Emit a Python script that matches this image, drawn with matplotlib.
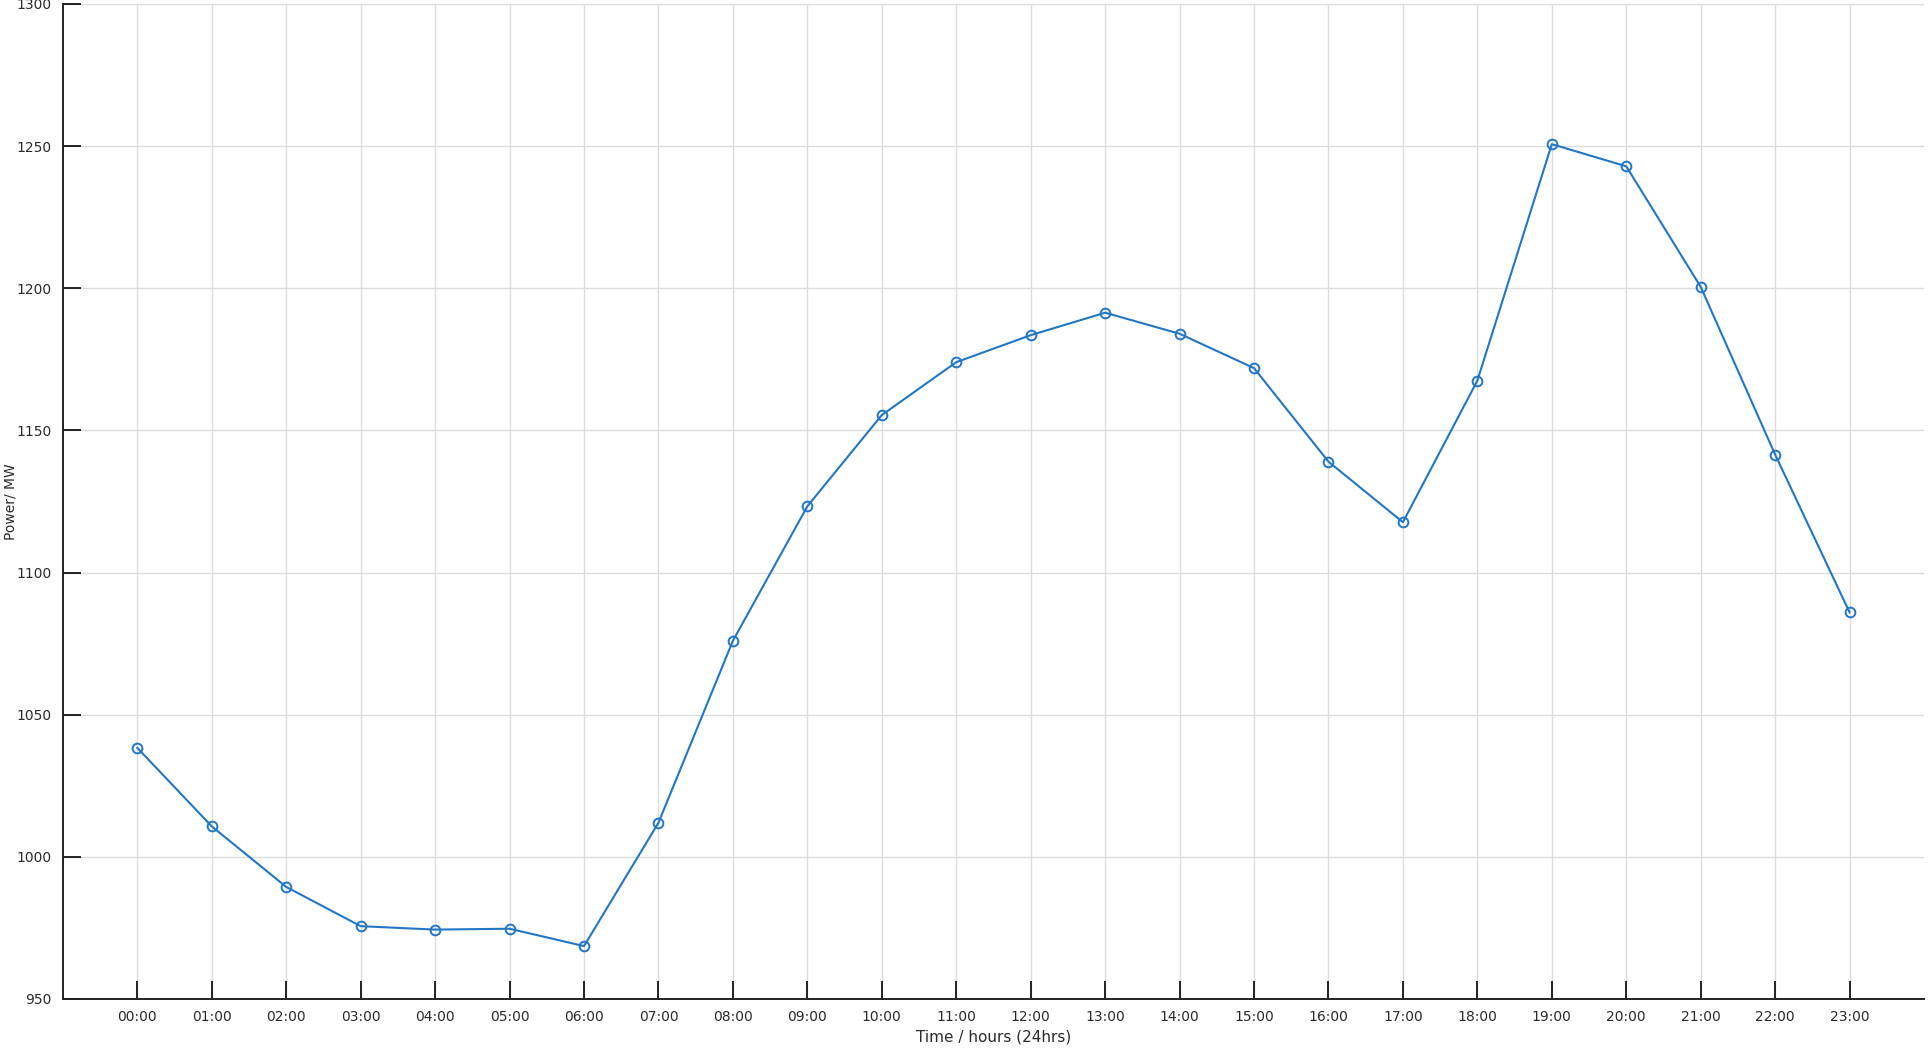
import numpy as np
import matplotlib.pyplot as plt

hours = np.arange(24)
hour_labels = ["%02d:00" % h for h in hours]
power = [1038.3, 1010.7, 989.4, 975.6, 974.4, 974.7, 968.6, 1012.0,
         1076.0, 1123.3, 1155.4, 1174.0, 1183.5, 1191.4, 1184.0, 1171.9,
         1139.0, 1117.7, 1167.5, 1250.7, 1242.9, 1200.5, 1141.5, 1086.0]
yticks = [950, 1000, 1050, 1100, 1150, 1200, 1250, 1300]

fig = plt.figure(figsize=(19.3, 10.48), dpi=100)
ax = fig.add_axes([0.0326, 0.0468, 0.9643, 0.9494])

ax.plot(hours, power, color='#2177c6', lw=1.5, marker='o', ms=7,
        mfc='none', mec='#2177c6', mew=1.4)

ax.set_xlim(-1, 24)
ax.set_ylim(950, 1300)
ax.set_xticks(hours)
ax.set_xticklabels(hour_labels)
ax.set_yticks(yticks)
ax.grid(True, color='#dcdcdc', lw=1)
ax.set_axisbelow(True)

for s in ['top', 'right']:
    ax.spines[s].set_visible(False)
for s in ['left', 'bottom']:
    ax.spines[s].set_linewidth(1.4)
    ax.spines[s].set_color('#222222')

ax.tick_params(direction='in', length=13, width=1.4, color='#222222',
               labelsize=10, labelcolor='#2a2a2a', pad=8)
ax.set_xlabel('Time / hours (24hrs)', fontsize=11, color='#2a2a2a', labelpad=4)
ax.set_ylabel('Power/ MW', fontsize=10, color='#2a2a2a')
ax.yaxis.set_label_coords(-0.0245, 0.5)

fig.savefig('out.png', dpi=100)
